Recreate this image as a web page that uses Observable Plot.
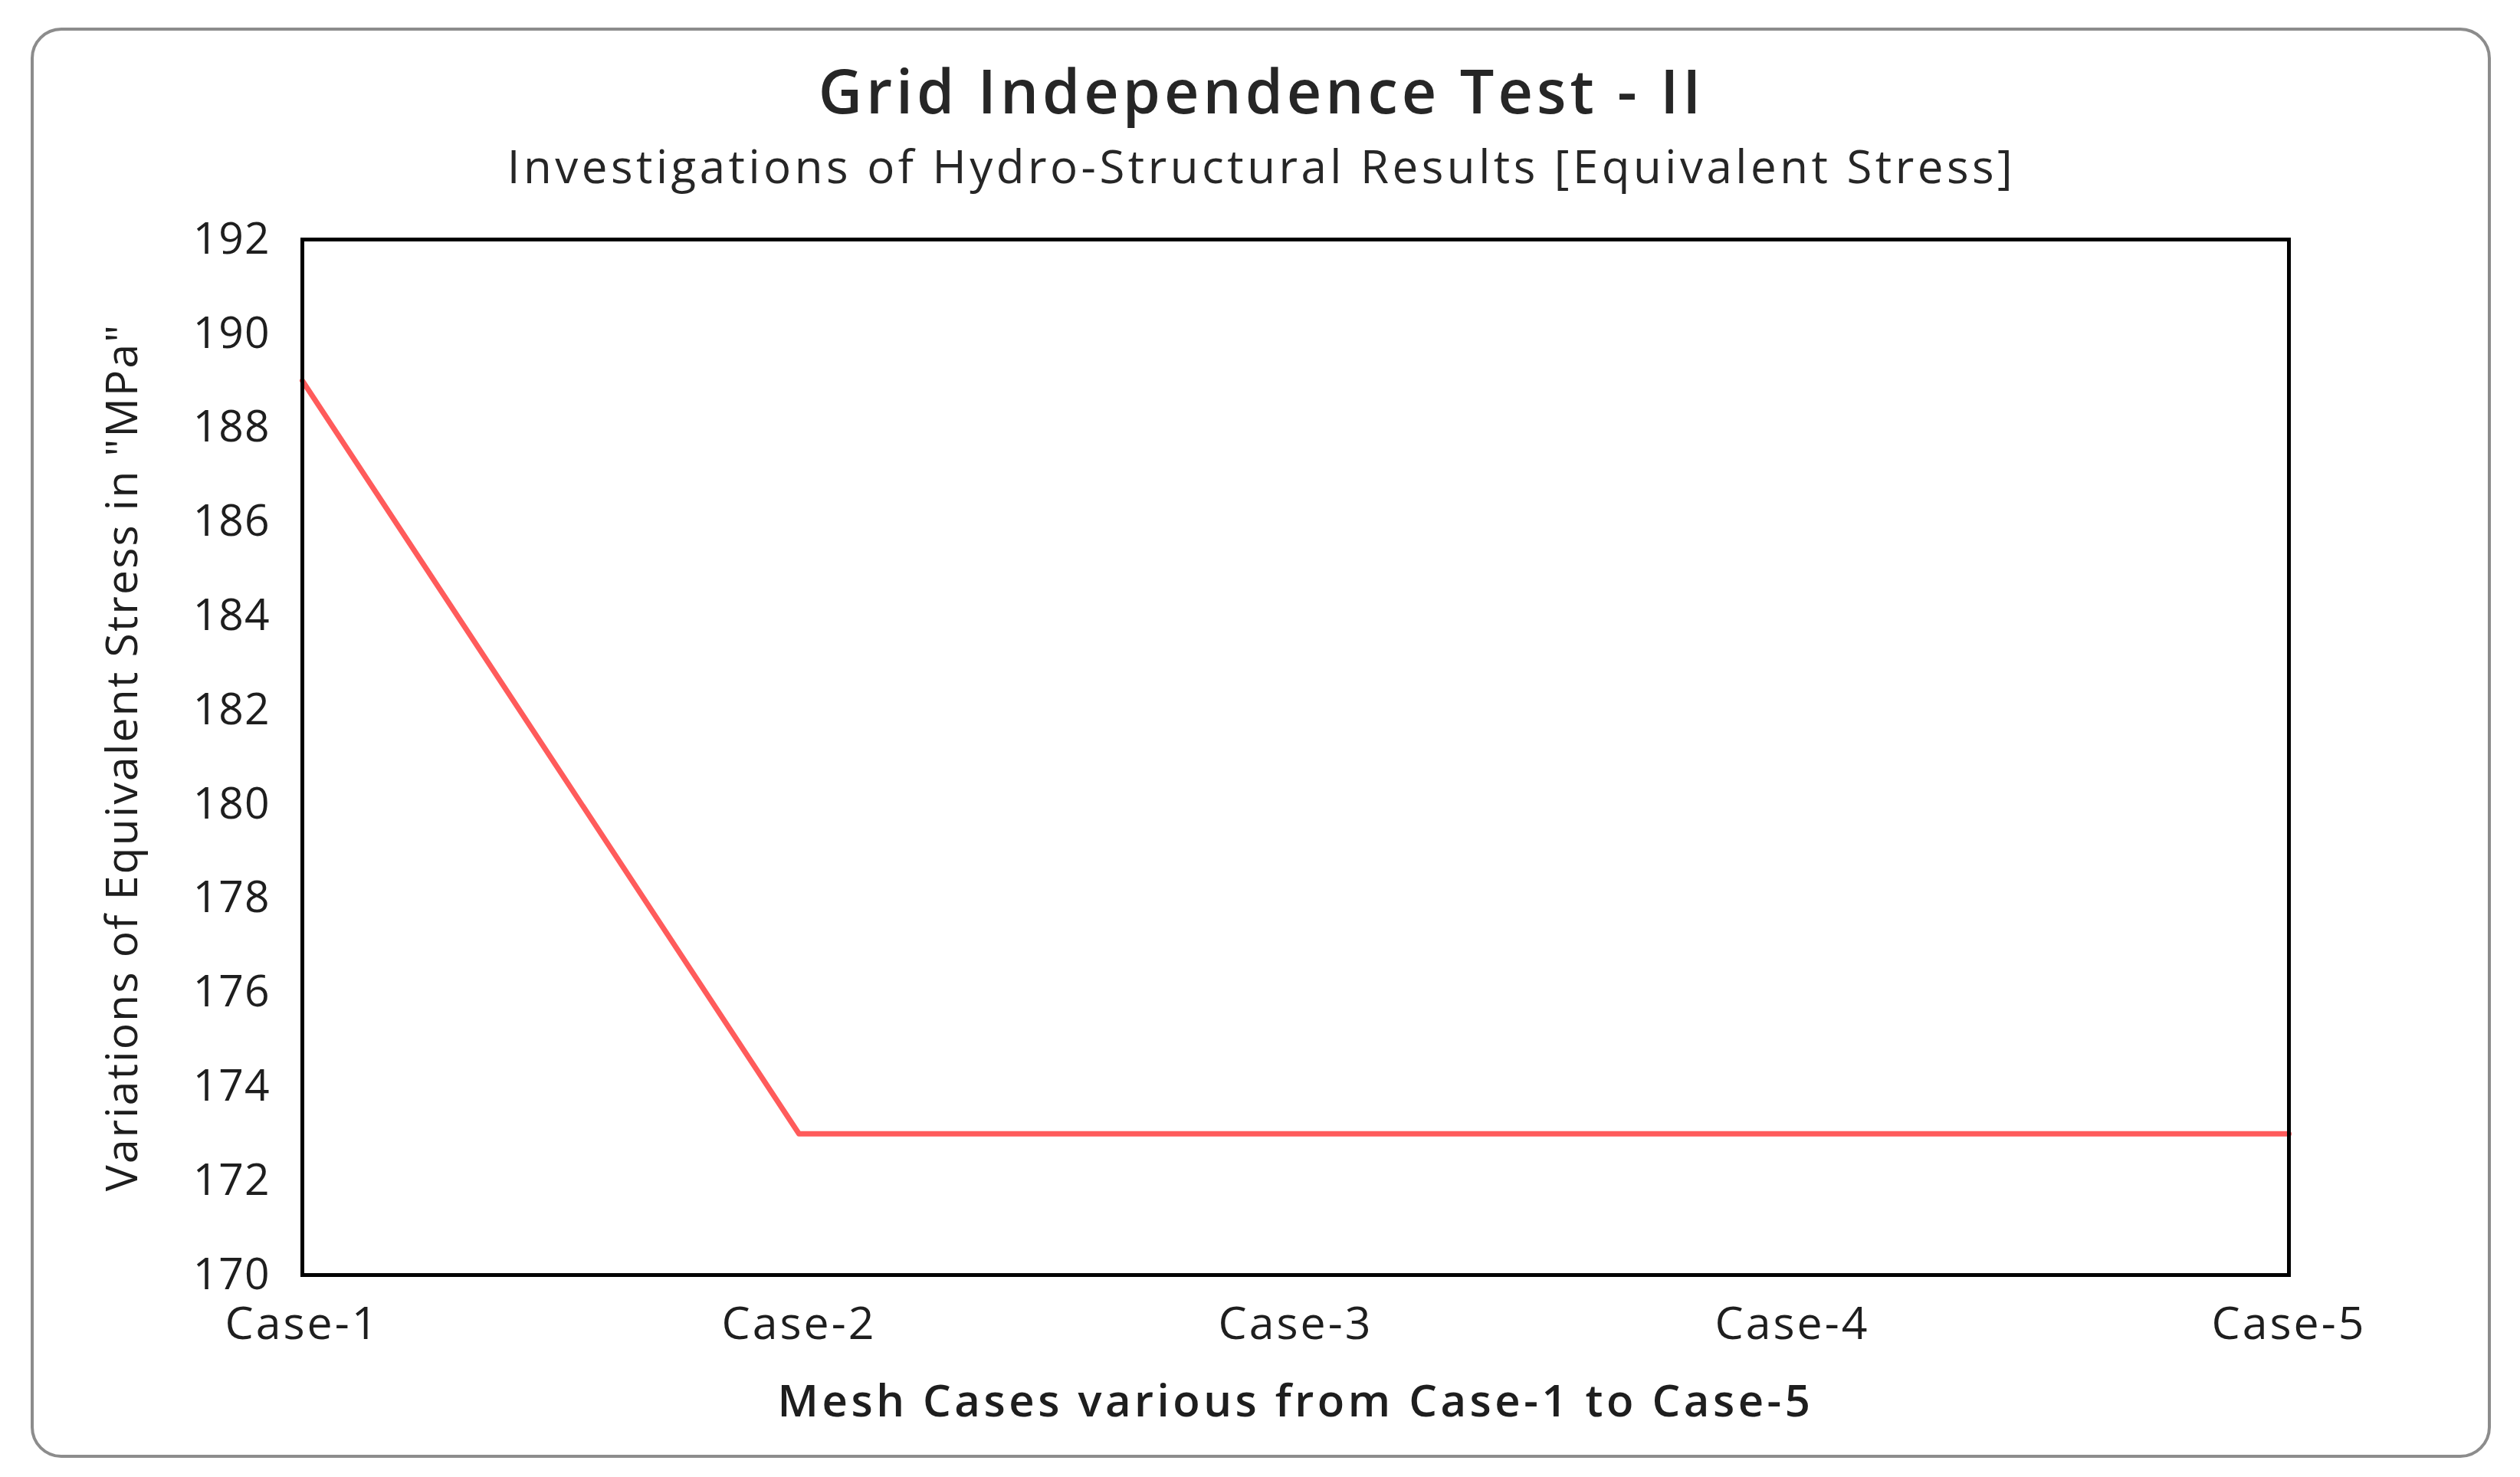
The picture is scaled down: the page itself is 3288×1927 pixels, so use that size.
<!DOCTYPE html>
<html>
<head>
<meta charset="utf-8">
<script src="https://cdn.jsdelivr.net/npm/d3@7"></script>
<script src="https://cdn.jsdelivr.net/npm/@observablehq/plot@0.6"></script>
<style>
  html, body { margin: 0; padding: 0; background: #fff; }
  body { width: 3288px; height: 1927px; position: relative; overflow: hidden; font-family: "Open Sans", sans-serif; }
  #box { position: absolute; left: 40px; top: 36px; width: 3210px; height: 1866px; box-sizing: border-box;
         border: 4px solid #8c8c8c; border-radius: 40px; }
  .title { position: absolute; left: 0; width: 3292px; text-align: center; line-height: 1; color: #262626; white-space: nowrap; }
  #t1 { top: 78px; font-size: 79px; font-weight: 600; letter-spacing: 5px; }
  #t2 { top: 186px; font-size: 60px; font-weight: 500; letter-spacing: 4.5px; }
  #chart { position: absolute; left: 0; top: 260px; }
  #chart g[aria-label="x-axis tick label"] text { letter-spacing: 3px; }
  #chart g[aria-label="y-axis tick label"] text { letter-spacing: 1px; }
  #chart g[aria-label="y-axis label"] text { letter-spacing: 2.2px; }
  #chart g[aria-label="text"] text { letter-spacing: 4.5px; }
</style>
</head>
<body>
<div id="box"></div>
<div class="title" id="t1">Grid Independence Test - II</div>
<div class="title" id="t2">Investigations of Hydro-Structural Results [Equivalent Stress]</div>
<div id="chart"></div>
<script>
const cases = ["Case-1", "Case-2", "Case-3", "Case-4", "Case-5"];
const stress = [189, 173, 173, 173, 173];
const yTicks = [170, 172, 174, 176, 178, 180, 182, 184, 186, 188, 190, 192];
const xLabel = "Mesh Cases various from Case-1 to Case-5";
const yLabel = "Variations of Equivalent Stress in \"MPa\"";

const data = cases.map((c, i) => ({case: c, value: stress[i]}));

const chart = Plot.plot({
  width: 3288,
  height: 1620,
  marginLeft: 394,
  marginRight: 302,
  marginTop: 52,
  marginBottom: 217,
  style: {fontFamily: "Open Sans", fontSize: "58px", color: "#1e1e1e", background: "transparent"},
  x: {type: "point", domain: cases, padding: 0},
  y: {domain: [170, 192]},
  marks: [
    Plot.axisY({ticks: yTicks, tickSize: 0, tickPadding: 42, fontSize: 59,
      label: yLabel, labelAnchor: "center", labelOffset: 256, labelArrow: "none", fontSize: 57}),
    Plot.axisX({tickSize: 0, tickPadding: 42, fontSize: 59, label: null}),
    Plot.text([xLabel], {text: d => d, frameAnchor: "bottom", lineAnchor: "bottom", dy: 184,
      fontSize: 58, fontWeight: 600, fill: "#1e1e1e"}),
    Plot.line(data, {x: "case", y: "value", stroke: "#ff5b5b", strokeWidth: 7}),
    Plot.frame({stroke: "#000", strokeWidth: 5})
  ]
});
document.getElementById("chart").appendChild(chart);
</script>
</body>
</html>
